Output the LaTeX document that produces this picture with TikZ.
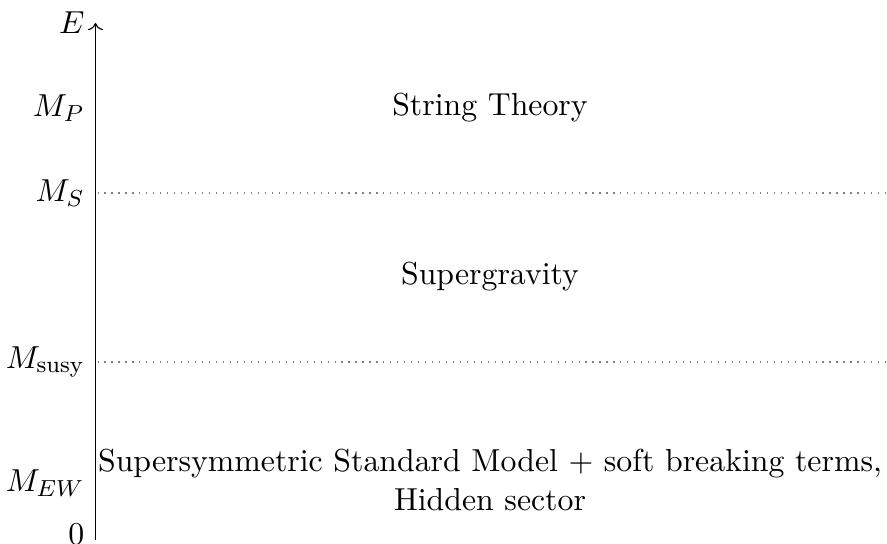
\documentclass[11pt,tikz,border=0pt]{standalone}
\usepackage{amsmath}
\usetikzlibrary{arrows.meta}

\begin{document}
\begin{tikzpicture}[x=0.0121cm,y=0.0121cm]
  \useasboundingbox (0,0) rectangle (887,544);
  % energy axis
  \coordinate (bot) at (95.5,4);
  \coordinate (top) at (95.5,521);
  \draw[->] (bot) -- (top);
  \node[left] (lE) at (top) {$E$};
  \node[left] (l0) at (95.5,10) {$0$};
  \foreach \n/\y/\t in {lP/436/M_P,lS/351/M_S,lsusy/182/M_{\text{susy}},lEW/61/M_{EW}}{
    \node[left] (\n) at (95.5,\y) {$\t$};
  }
  % scale boundaries
  \foreach \n in {lS,lsusy}{
    \draw[dotted,gray] (\n.east) ++(2,0) -- (887,0 |- \n.east);
  }
  % regimes
  \node (string) at (490,436) {String Theory};
  \node (sugra) at (490,267) {Supergravity};
  \node[align=center] (mssm) at (490,64) {Supersymmetric Standard Model + soft breaking terms,\\ Hidden sector};
\end{tikzpicture}
\end{document}
